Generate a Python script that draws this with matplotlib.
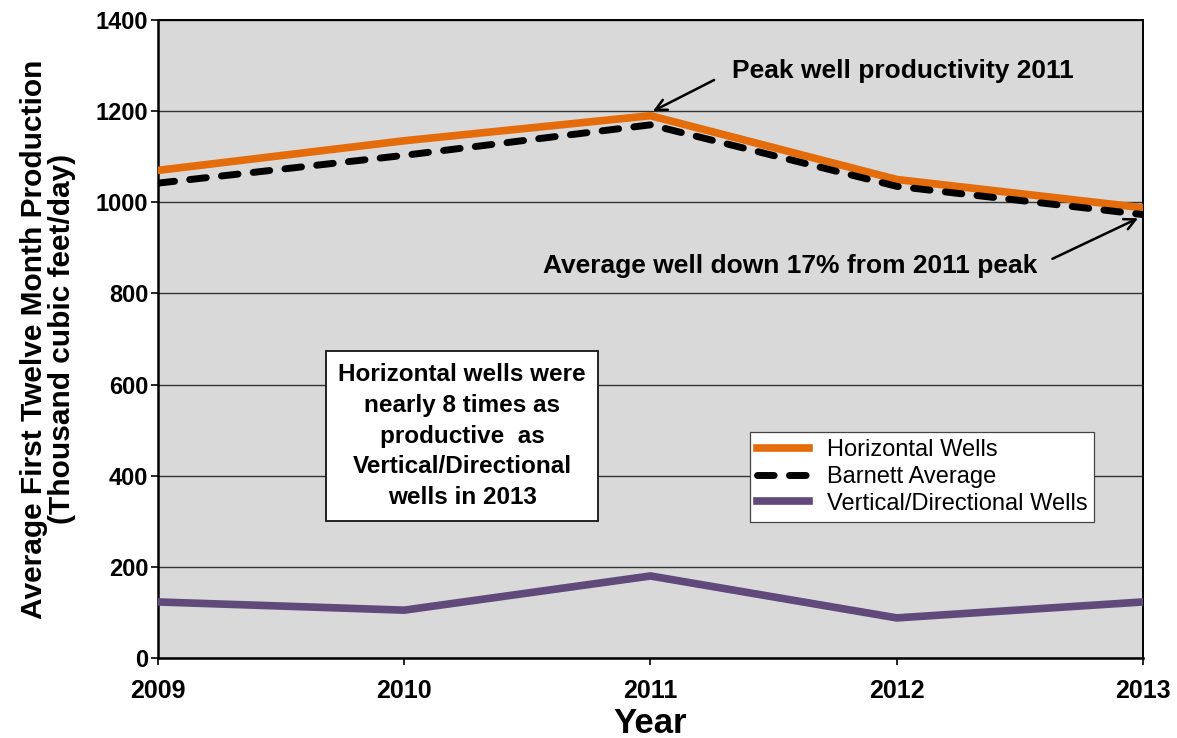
import matplotlib.pyplot as plt

plt.rcParams['font.family'] = ['Liberation Sans', 'DejaVu Sans']

years = [2009, 2010, 2011, 2012, 2013]
horizontal = [1070, 1135, 1190, 1050, 988]
barnett = [1042, 1103, 1170, 1035, 973]
vertical = [123, 105, 180, 88, 123]

fig = plt.figure(figsize=(11.77, 7.38), dpi=100)
ax = fig.add_axes([0.1342, 0.1084, 0.8369, 0.8645])
ax.set_facecolor('#D9D9D9')

ax.plot(years, horizontal, color='#E46C0A', lw=5.5, label='Horizontal Wells', zorder=3)
ax.plot(years, barnett, color='black', lw=5, ls=(0, (2.4, 2.2)), dash_capstyle='round',
        label='Barnett Average', zorder=4)
ax.plot(years, vertical, color='#604A7B', lw=5.5, label='Vertical/Directional Wells', zorder=3)

ax.set_xlim(2009, 2013)
ax.set_ylim(0, 1400)
ax.set_xticks(years)
ax.set_yticks(range(0, 1401, 200))
ax.yaxis.grid(True, color='#333333', lw=1)
ax.set_axisbelow(True)
for s in ax.spines.values():
    s.set_color('black')
    s.set_linewidth(1.4)
ax.spines['left'].set_linewidth(1.8)
ax.spines['bottom'].set_linewidth(1.8)
ax.tick_params(axis='both', direction='out', length=5, width=1.2)
ax.tick_params(axis='x', pad=10, labelsize=18)
ax.tick_params(axis='y', pad=2, labelsize=17)
for lbl in ax.get_xticklabels() + ax.get_yticklabels():
    lbl.set_fontweight('bold')

ax.set_xlabel('Year', fontsize=25, fontweight='bold', labelpad=3)
ax.set_ylabel('Average First Twelve Month Production\n(Thousand cubic feet/day)',
              fontsize=21.5, fontweight='bold', labelpad=14, linespacing=1.0)

ax.annotate('Peak well productivity 2011', xy=(2011.01, 1200), xytext=(2011.33, 1288),
            fontsize=19, fontweight='bold', va='center', ha='left',
            arrowprops=dict(arrowstyle='->', color='black', lw=1.8, mutation_scale=20,
                            relpos=(0, 0.5), shrinkA=12, shrinkB=0))
ax.annotate('Average well down 17% from 2011 peak', xy=(2012.98, 965), xytext=(2012.57, 860),
            fontsize=19, fontweight='bold', va='center', ha='right',
            arrowprops=dict(arrowstyle='->', color='black', lw=1.8, mutation_scale=20,
                            relpos=(1, 0.5), shrinkA=10, shrinkB=0))

ax.text(2010.235, 487, 'Horizontal wells were\nnearly 8 times as\nproductive  as\nVertical/Directional\nwells in 2013',
        fontsize=17.5, fontweight='bold', ha='center', va='center', linespacing=1.42,
        bbox=dict(boxstyle='square,pad=0.5', facecolor='white', edgecolor='#222222', lw=1.4))

leg = ax.legend(loc='upper left', bbox_to_anchor=(0.601, 0.354), fontsize=17,
                frameon=True, fancybox=False, edgecolor='#444444', framealpha=1,
                handlelength=2.2, borderpad=0.3, labelspacing=0.2, handletextpad=0.75,
                borderaxespad=0)
leg.get_frame().set_linewidth(0.9)

fig.savefig('out.png', dpi=100)
